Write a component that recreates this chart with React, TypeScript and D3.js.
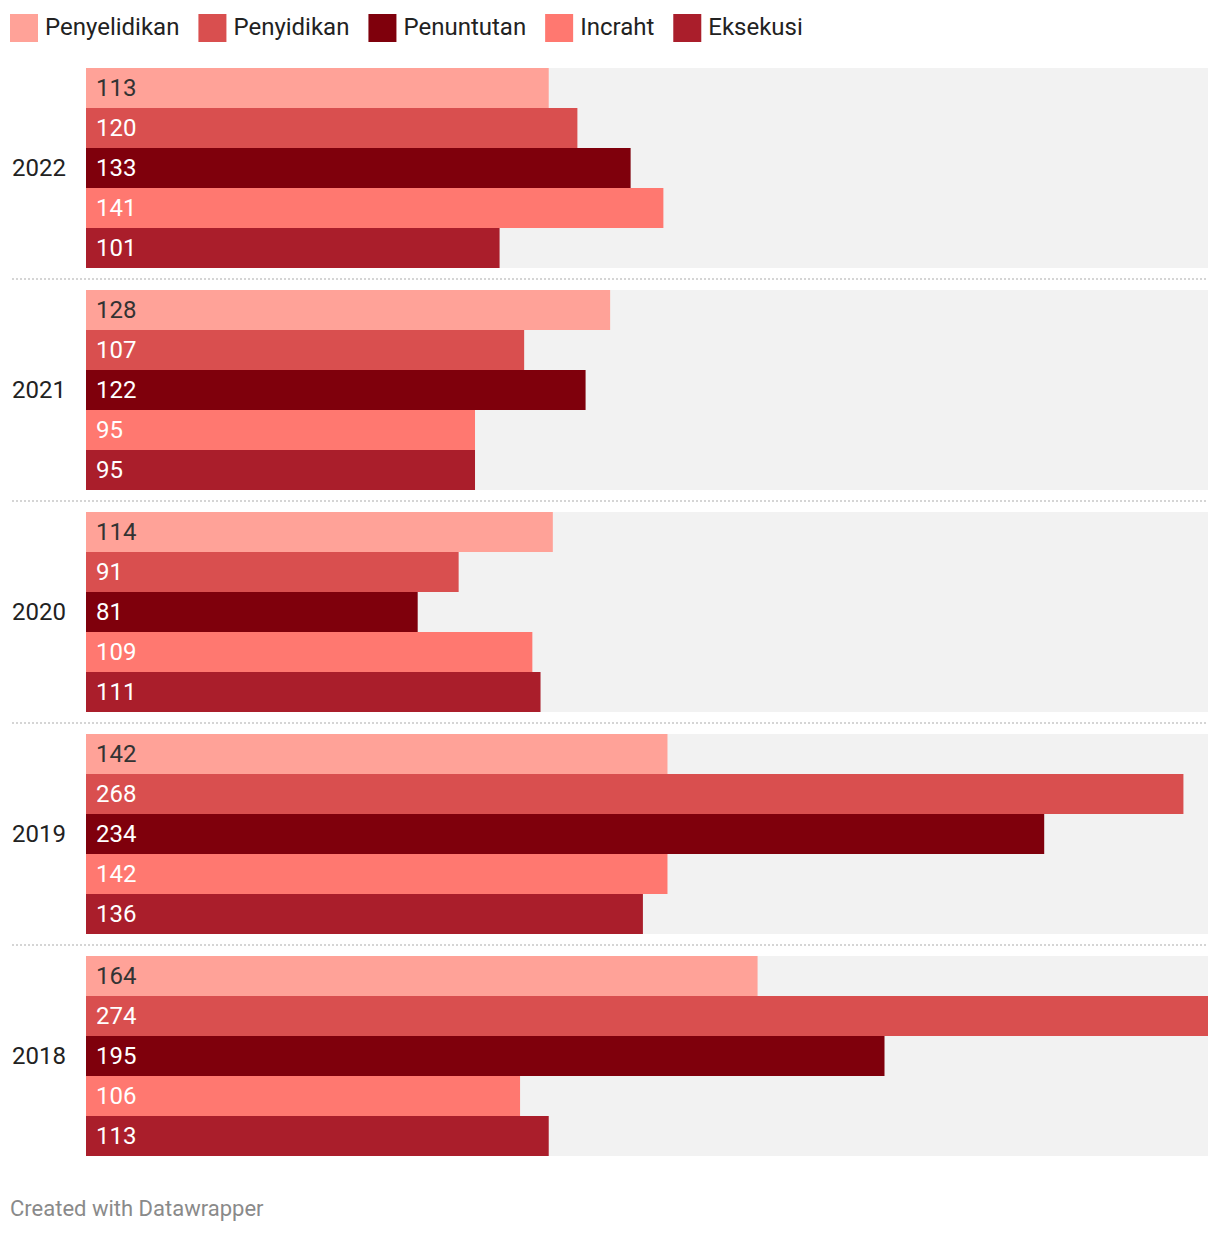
import React, { useEffect, useRef } from "react";
import * as d3 from "d3";

const years = ["2022", "2021", "2020", "2019", "2018"];
const seriesNames = ["Penyelidikan", "Penyidikan", "Penuntutan", "Incraht", "Eksekusi"];
const seriesColors = ["#ffa298", "#d94f4f", "#7f000c", "#ff7870", "#aa1e2b"];
const labelColors = ["#333333", "#ffffff", "#ffffff", "#ffffff", "#ffffff"];
const penyelidikan = [113, 128, 114, 142, 164];
const penyidikan = [120, 107, 91, 268, 274];
const penuntutan = [133, 122, 81, 234, 195];
const incraht = [141, 95, 109, 142, 106];
const eksekusi = [101, 95, 111, 136, 113];

const W = 1220;
const H = 1234;
const FONT = "Roboto, 'Noto Sans', sans-serif";

export default function App() {
  const ref = useRef<SVGSVGElement | null>(null);

  useEffect(() => {
    const svg = d3.select(ref.current);
    svg.selectAll("*").remove();
    const values = [penyelidikan, penyidikan, penuntutan, incraht, eksekusi];

    const x = d3.scaleLinear().domain([0, 274]).range([86, 1208]);
    const groupY = d3.scaleBand().domain(years).range([68, 68 + 222 * 5]).paddingInner(0).paddingOuter(0);
    const barY = d3.scaleBand().domain(seriesNames).range([0, 200]);

    // legend
    const legend = svg.append("g");
    let lx = 10;
    seriesNames.forEach((name, i) => {
      legend.append("rect").attr("x", lx).attr("y", 14).attr("width", 28).attr("height", 28).attr("fill", seriesColors[i]);
      const t = legend.append("text").attr("x", lx + 35).attr("y", 26.5).attr("dy", "0.35em")
        .attr("font-family", FONT).attr("font-size", 24).attr("fill", "#222").text(name);
      const w = (t.node() as SVGTextElement).getComputedTextLength();
      lx += 35 + w + 19;
    });

    years.forEach((yr, gi) => {
      const gy = groupY(yr)!;
      const g = svg.append("g").attr("transform", `translate(0,${gy})`);
      g.append("rect").attr("x", 86).attr("y", 0).attr("width", 1208 - 86).attr("height", 200).attr("fill", "#f2f2f2");
      seriesNames.forEach((s, si) => {
        const v = values[si][gi];
        const by = barY(s)!;
        g.append("rect").attr("x", x(0)).attr("y", by).attr("width", x(v) - x(0)).attr("height", barY.bandwidth()).attr("fill", seriesColors[si]);
        g.append("text").attr("x", 96).attr("y", by + barY.bandwidth() / 2).attr("dy", "0.35em")
          .attr("font-family", FONT).attr("font-size", 24).attr("fill", labelColors[si]).text(String(v));
      });
      g.append("text").attr("x", 12).attr("y", 100).attr("dy", "0.35em")
        .attr("font-family", FONT).attr("font-size", 24).attr("fill", "#222").text(yr);
      if (gi < years.length - 1) {
        g.append("line").attr("x1", 12).attr("x2", 1208).attr("y1", 211).attr("y2", 211)
          .attr("stroke", "#c8c8c8").attr("stroke-width", 1.5).attr("stroke-dasharray", "2,2");
      }
    });

    svg.append("text").attr("x", 10).attr("y", 1208).attr("dy", "0.35em")
      .attr("font-family", FONT).attr("font-size", 22).attr("fill", "#8a8a8a").text("Created with Datawrapper");
  }, []);

  return (
    <svg ref={ref} width={W} height={H} style={{ position: "absolute", left: 0, top: 0, background: "#fff" }} />
  );
}
